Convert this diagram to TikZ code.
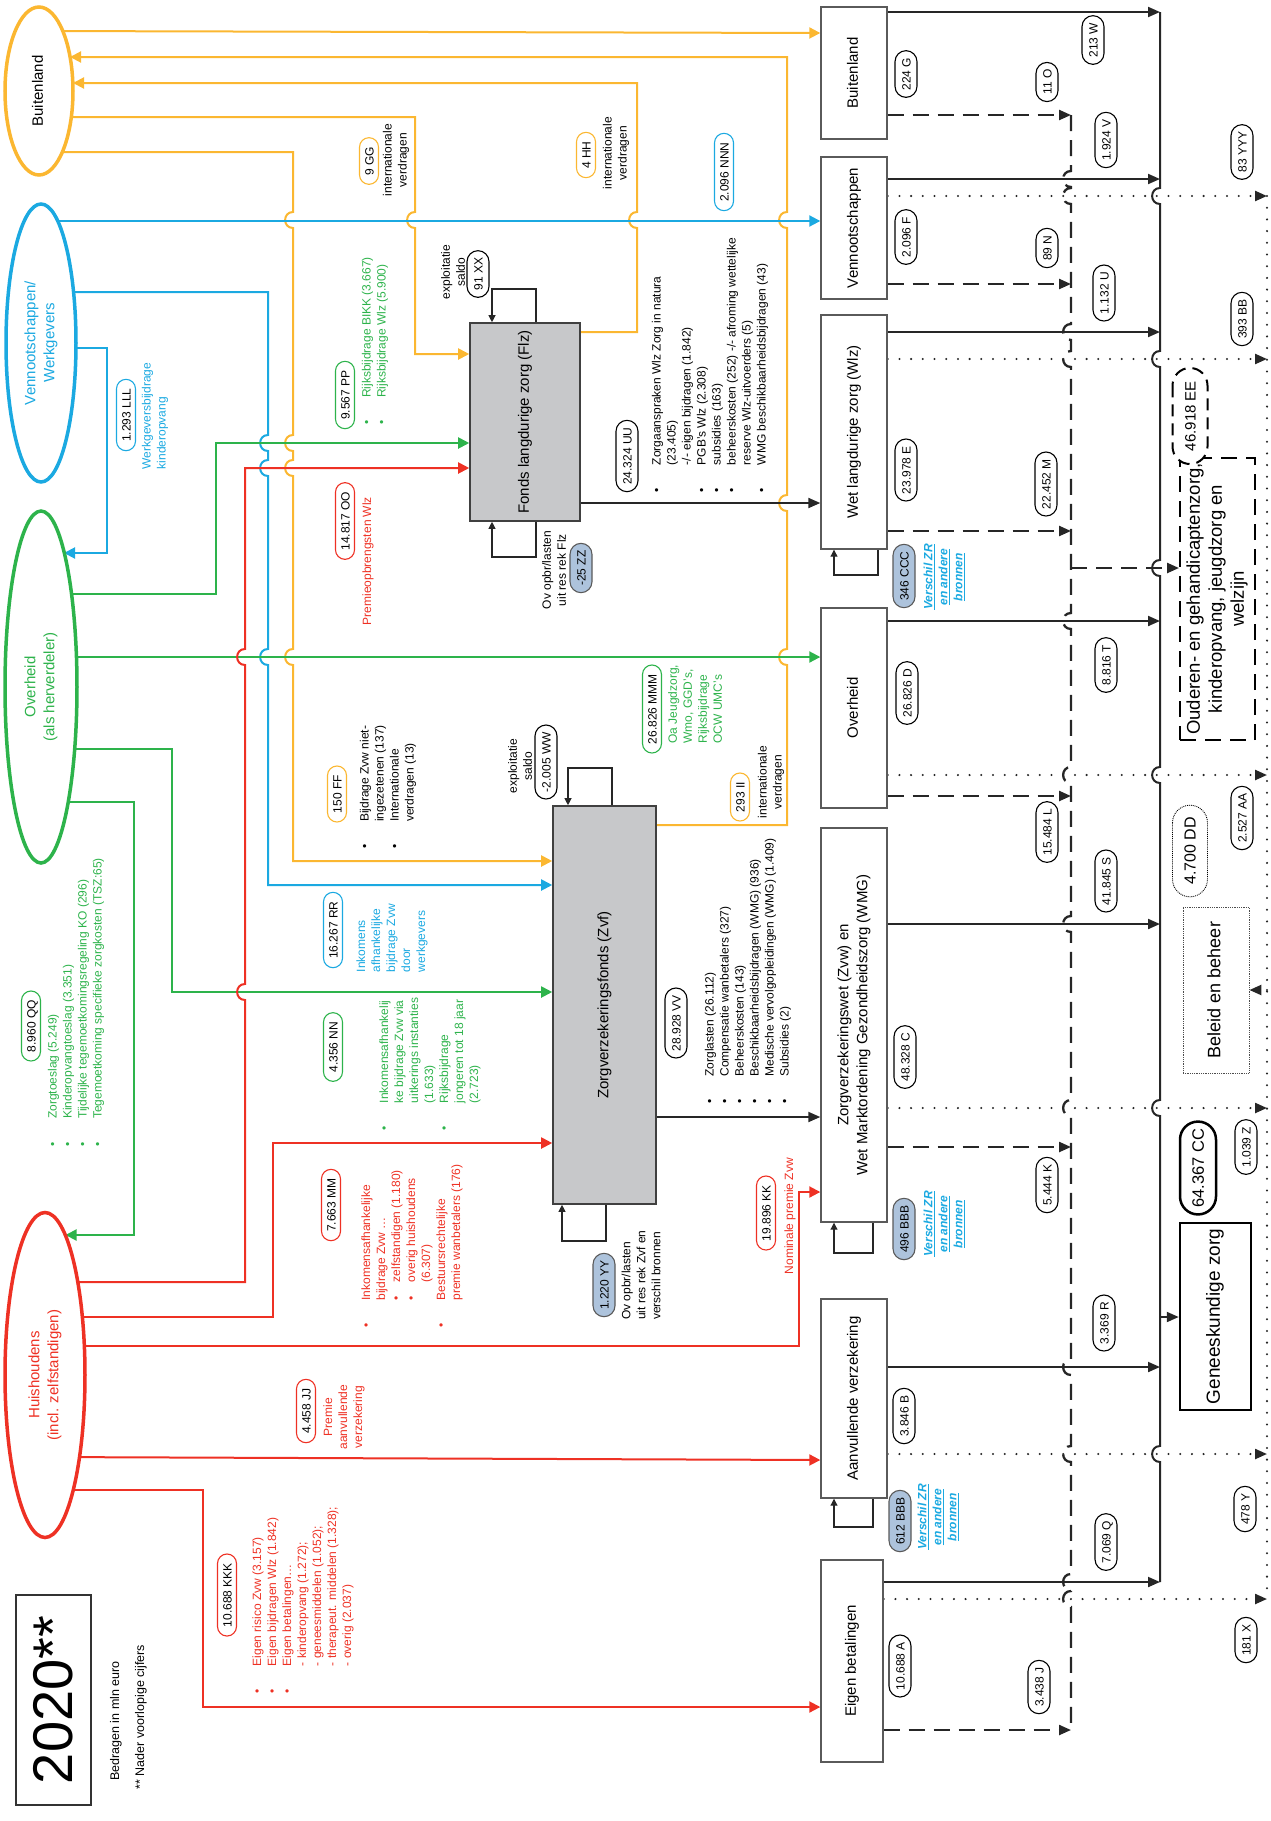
\documentclass[tikz,border=0pt]{standalone}
\usepackage{fontspec}
\setmainfont{Liberation Sans}
\usepackage{graphicx}
\usetikzlibrary{arrows.meta,positioning,backgrounds,shapes.geometric,calc}
\definecolor{oranje}{HTML}{FBB731}
\definecolor{blauw}{HTML}{1BA9E1}
\definecolor{groen}{HTML}{2DB34B}
\definecolor{rood}{HTML}{EE3124}
\definecolor{rand}{HTML}{5A5A5A}
\definecolor{fonds}{HTML}{C7C8CA}
\definecolor{zrblauw}{HTML}{ADC3DC}
\newcommand{\fsz}[2]{\fontsize{#1}{#2}\selectfont}
\newcommand{\rtxt}[1]{\rotatebox{90}{\begin{tabular}{@{}c@{}}#1\end{tabular}}}
\newcommand{\zrlink}{\underline{Verschil ZR}\\\underline{en andere}\\\underline{bronnen}}

\begin{document}
\begin{tikzpicture}[x=1pt,y=-1pt,
  ell/.style={ellipse,line width=3.5pt,fill=white,inner sep=0pt,font=\fsz{15}{19}},
  box/.style={draw=rand,line width=1.4pt,fill=white,inner sep=0pt,font=\fsz{15}{19}},
  fund/.style={draw=black!75,line width=1.6pt,fill=fonds,inner sep=0pt,font=\fsz{15}{19}},
  ov/.style={rectangle,rounded corners=9.5pt,draw,line width=1.1pt,fill=white,rotate=90,
             minimum height=19pt,text height=9pt,text depth=0pt,inner ysep=0pt,
             inner xsep=9pt,font=\fsz{12}{14}},
  sov/.style={ov,rounded corners=11pt,minimum height=22pt,inner xsep=7pt},
  zrov/.style={sov,fill=zrblauw,draw=rand},
  txt/.style={rotate=90,inner sep=0pt,font=\fsz{12}{15}},
  zrtxt/.style={txt,text=blauw,align=center,font=\fsz{12}{15}\bfseries\itshape},
  cl/.style={line width=2pt,-{Triangle[length=11pt,width=11pt]}},
  kl/.style={line width=2pt,black!85},
  ktip/.style={-{Triangle[length=12pt,width=10pt]}},
  dl/.style={kl,line width=2.3pt,dash pattern=on 16pt off 9pt},
  pl/.style={kl,line width=2.3pt,line cap=round,dash pattern=on 0pt off 11.7pt},
  loopl/.style={line width=1.1pt,black!85,-{Triangle[length=7pt,width=7pt]}},
  hopd/.style args={#1/#2}{insert path={-- (#1,#2-8) .. controls (#1-10.5,#2-8) and (#1-10.5,#2+8) .. (#1,#2+8)}},
  hopu/.style args={#1/#2}{insert path={-- (#1,#2+8) .. controls (#1-10.5,#2+8) and (#1-10.5,#2-8) .. (#1,#2-8)}}
]
\useasboundingbox (0,0) rectangle (1271,1821);

% sectoren
\node[ell,draw=oranje,minimum width=68,minimum height=168] (elBuit) at (39,91) {\rtxt{Buitenland}};
\node[ell,draw=blauw,text=blauw,minimum width=70,minimum height=278] (elVenn) at (41,343) {\rtxt{Vennootschappen/\\Werkgevers}};
\node[ell,draw=groen,text=groen,minimum width=72,minimum height=352] (elOverh) at (41,687) {\rtxt{Overheid\\(als herverdeler)}};
\node[ell,draw=rood,text=rood,minimum width=80,minimum height=325] (elHuis) at (45,1375) {\rtxt{Huishoudens\\(incl. zelfstandigen)}};

% fondsen
\node[fund,minimum width=110,minimum height=198] (fdFlz) at (525,422) {\rtxt{Fonds langdurige zorg (Flz)}};
\node[fund,minimum width=103,minimum height=398] (fdZvf) at (604.5,1005) {\rtxt{Zorgverzekeringsfonds (Zvf)}};

% financieringsbronnen
\node[box,minimum width=66,minimum height=132] (bxBuit) at (854,73) {\rtxt{Buitenland}};
\node[box,minimum width=66,minimum height=142] (bxVenn) at (854,228) {\rtxt{Vennootschappen}};
\node[box,minimum width=66,minimum height=234] (bxWlz) at (854,432) {\rtxt{Wet langdurige zorg (Wlz)}};
\node[box,minimum width=66,minimum height=200] (bxOverh) at (854,708) {\rtxt{Overheid}};
\node[box,minimum width=66,minimum height=394] (bxZvw) at (854,1025) {\rtxt{Zorgverzekeringswet (Zvw) en\\Wet Marktordening Gezondheidszorg (WMG)}};
\node[box,minimum width=66,minimum height=199] (bxAanv) at (854,1398.5) {\rtxt{Aanvullende verzekering}};
\node[box,minimum width=62,minimum height=202] (bxEigen) at (852,1661) {\rtxt{Eigen betalingen}};

% bestedingen
\node[box,draw=black,line width=2pt,dash pattern=on 16pt off 9pt,minimum width=75,minimum height=282,
      font=\fsz{18.5}{22}] (tgOuder) at (1217.5,599) {\rtxt{Ouderen- en gehandicaptenzorg,\\kinderopvang, jeugdzorg en\\welzijn}};
\node[ov,line width=2pt,dash pattern=on 12pt off 7pt,rounded corners=17.5pt,minimum height=35pt,
      text height=11pt,inner xsep=13pt,font=\fsz{15}{18}] (ovEE) at (1190,416) {46.918 EE};
\node[box,draw=black!70,line width=0.8pt,densely dotted,minimum width=66,minimum height=166,
      font=\fsz{18}{22}] (tgBeleid) at (1216,990) {\rtxt{Beleid en beheer}};
\node[ov,line width=0.9pt,densely dotted,rounded corners=17.5pt,minimum height=35pt,
      text height=11pt,inner xsep=12pt,font=\fsz{16}{18}] (ovDD) at (1190,851) {4.700 DD};
\node[box,draw=black,line width=2.5pt,minimum width=71,minimum height=187,
      font=\fsz{19}{22}] (tgGenees) at (1215.5,1316.5) {\rtxt{Geneeskundige zorg}};
\node[ov,line width=2.5pt,rounded corners=18pt,minimum height=36pt,text height=11.5pt,
      inner xsep=7pt,font=\fsz{16.5}{18}] (ovCC) at (1198,1168) {64.367 CC};

% jaartal
\node[box,draw=black!80,line width=1.5pt,minimum width=75,minimum height=210,
      font=\fsz{56}{60}] (jaar) at (53.5,1700) {\rotatebox{90}{2020**}};
\node[txt,font=\fsz{12.5}{15}] (bedrag) at (116,1721) {Bedragen in mln euro};
\node[txt,font=\fsz{12.5}{15}] (nader) at (141,1717) {** Nader voorlopige cijfers};

% labels linkerdeel
\node[ov,draw=oranje] (ovGG) at (369,161) {9 GG};
\node[txt,align=center] (tGG) at (396,160) {internationale\\verdragen};
\node[ov,draw=oranje] (ovHH) at (586,155) {4 HH};
\node[txt,align=center] (tHH) at (616,153) {internationale\\verdragen};
\node[ov,draw=blauw] (ovNNN) at (724,172) {2.096 NNN};
\node[sov] (ovXX) at (478,274) {91 XX};
\node[txt,align=center] (tXX) at (453,272) {exploitatie\\saldo};
\node[ov,draw=groen] (ovPP) at (345,395) {9.567 PP};
\node[txt,text=groen] (tPP) at (375,341) {\begin{tabular}{@{}l@{\hspace{23pt}}l@{}}
  \textbullet&Rijksbijdrage BIKK (3.667)\\\textbullet&Rijksbijdrage Wlz (5.900)\end{tabular}};
\node[ov,draw=blauw] (ovLLL) at (126,415) {1.293 LLL};
\node[txt,text=blauw,align=left] (tLLL) at (155,416) {Werkgeversbijdrage\\kinderopvang};
\node[ov,draw=rood] (ovOO) at (345,521) {14.817 OO};
\node[txt,text=rood] (tOO) at (368,561) {Premieopbrengsten Wlz};
\node[sov] (ovUU) at (627,456) {24.324 UU};
\node[txt] (tUU) at (710,365) {\begin{tabular}{@{}l@{\hspace{23pt}}l@{}}
  \textbullet&Zorgaanspraken Wlz Zorg in natura\\
  &(23.405)\\
  &-/- eigen bijdragen (1.842)\\
  \textbullet&PGB's Wlz (2.308)\\
  \textbullet&subsidies (163)\\
  \textbullet&beheerskosten (252) -/- afroming wettelijke\\
  &reserve Wlz-uitvoerders (5)\\
  \textbullet&WMG beschikbaarheidsbijdragen (43)\end{tabular}};
\node[ov,draw=oranje] (ovFF) at (337,794) {150 FF};
\node[txt] (tFF) at (388,787) {\begin{tabular}{@{}l@{\hspace{23pt}}l@{}}
  \textbullet&Bijdrage Zvw niet-\\&ingezetenen (137)\\
  \textbullet&Internationale\\&verdragen (13)\end{tabular}};
\node[sov] (ovWW) at (546,762) {-2.005 WW};
\node[txt,align=center] (tWW) at (520,766) {exploitatie\\saldo};
\node[ov,draw=groen] (ovMMM) at (652,709) {26.826 MMM};
\node[txt,text=groen,align=left] (tMMM) at (695,704) {Oa Jeugdzorg,\\Wmo, GGD's,\\Rijksbijdrage\\OCW UMC's};
\node[ov,draw=oranje] (ovII) at (740,797) {293 II};
\node[txt,align=center] (tII) at (771,782) {internationale\\verdragen};
\node[zrov] (ovZZ) at (581,568) {-25 ZZ};
\node[txt,align=center] (tZZ) at (554,570) {Ov opbr/lasten\\uit res rek Flz};
\node[ov,draw=blauw] (ovRR) at (333,930) {16.267 RR};
\node[txt,text=blauw,align=left] (tRR) at (392,938) {Inkomens\\afhankelijke\\bijdrage Zvw\\door\\werkgevers};
\node[ov,draw=groen] (ovNN) at (333,1047) {4.356 NN};
\node[txt,text=groen] (tNN) at (430,1064) {\begin{tabular}{@{}l@{\hspace{23pt}}l@{}}
  \textbullet&Inkomensafhankelij\\&ke bijdrage Zvw via\\&uitkerings instanties\\&(1.633)\\
  \textbullet&Rijksbijdrage\\&jongeren tot 18 jaar\\&(2.723)\end{tabular}};
\node[ov,draw=groen] (ovQQ) at (31,1026) {8.960 QQ};
\node[txt,text=groen] (tQQ) at (76,1002) {\begin{tabular}{@{}l@{\hspace{23pt}}l@{}}
  \textbullet&Zorgtoeslag (5.249)\\
  \textbullet&Kinderopvangtoeslag (3.351)\\
  \textbullet&Tijdelijke tegemoetkomingsregeling KO (296)\\
  \textbullet&Tegemoetkoming specifieke zorgkosten (TSZ:65)\end{tabular}};
\node[ov,draw=rood] (ovMM) at (331,1205) {7.663 MM};
\node[txt,text=rood] (tMM) at (412,1246) {\begin{tabular}{@{}l@{\hspace{23pt}}l@{}}
  \textbullet&Inkomensafhankelijke\\
  &bijdrage Zvw \dots\\
  &\textbullet\hspace{14pt}zelfstandigen (1.180)\\
  &\textbullet\hspace{14pt}overig huishoudens\\
  &\hspace{18pt}(6.307)\\
  \textbullet&Bestuursrechtelijke\\
  &premie wanbetalers (176)\end{tabular}};
\node[sov] (ovVV) at (676,1023) {28.928 VV};
\node[txt] (tVV) at (748,971) {\begin{tabular}{@{}l@{\hspace{23pt}}l@{}}
  \textbullet&Zorglasten (26.112)\\
  \textbullet&Compensatie wanbetalers (327)\\
  \textbullet&Beheerskosten (143)\\
  \textbullet&Beschikbaarheidsbijdragen (WMG) (936)\\
  \textbullet&Medische vervolgopleidingen (WMG) (1.409)\\
  \textbullet&Subsidies (2)\end{tabular}};
\node[zrov] (ovYY) at (604,1285) {1.220 YY};
\node[txt,align=left] (tYY) at (641,1275) {Ov opbr/lasten\\uit res rek Zvf en\\verschil bronnen};
\node[ov,draw=rood] (ovKK) at (766,1213) {19.896 KK};
\node[txt,text=rood] (tKK) at (790,1216) {Nominale premie Zvw};
\node[ov,draw=rood] (ovJJ) at (306,1411) {4.458 JJ};
\node[txt,text=rood,align=center] (tJJ) at (344,1417) {Premie\\aanvullende\\verzekering};
\node[ov,draw=rood] (ovKKK) at (227,1595) {10.688 KKK};
\node[txt,text=rood] (tKKK) at (303,1600) {\begin{tabular}{@{}l@{\hspace{23pt}}l@{}}
  \textbullet&Eigen risico Zvw (3.157)\\
  \textbullet&Eigen bijdragen Wlz (1.842)\\
  \textbullet&Eigen betalingen\dots\\
  &- kinderopvang (1.272);\\
  &- geneesmiddelen (1.052);\\
  &- therapeut. middelen (1.328);\\
  &- overig (2.037)\end{tabular}};

% labels rechterdeel
\node[sov] (ovG) at (906,74) {224 G};
\node[sov] (ovF) at (906,237) {2.096 F};
\node[sov] (ovE) at (906,470) {23.978 E};
\node[sov] (ovD) at (907,693) {26.826 D};
\node[sov] (ovC) at (905,1057) {48.328 C};
\node[sov] (ovB) at (904,1416) {3.846 B};
\node[sov] (ovA) at (900,1666) {10.688 A};
\node[zrov] (ovCCC) at (904,576) {346 CCC};
\node[zrtxt] (tCCC) at (944,577) {\zrlink};
\node[zrov] (ovBBBa) at (904,1229) {496 BBB};
\node[zrtxt] (tBBBa) at (944,1224) {\zrlink};
\node[zrov] (ovBBBb) at (900,1521) {612 BBB};
\node[zrtxt] (tBBBb) at (938,1517) {\zrlink};
\node[sov] (ovO) at (1047,82) {11 O};
\node[sov] (ovN) at (1047,248) {89 N};
\node[sov] (ovM) at (1046,484) {22.452 M};
\node[sov] (ovL) at (1047,832) {15.484 L};
\node[sov] (ovK) at (1047,1185) {5.444 K};
\node[sov] (ovJ) at (1039,1687) {3.438 J};
\node[sov] (ovW) at (1093,40) {213 W};
\node[sov] (ovV) at (1106,140) {1.924 V};
\node[sov] (ovU) at (1104,293) {1.132 U};
\node[sov] (ovT) at (1106,665) {8.816 T};
\node[sov] (ovS) at (1106,881) {41.845 S};
\node[sov] (ovR) at (1104,1323) {3.369 R};
\node[sov] (ovQ) at (1106,1542) {7.069 Q};
\node[sov] (ovYYY) at (1242,152) {83 YYY};
\node[sov] (ovBB) at (1242,319) {393 BB};
\node[sov] (ovAA) at (1242,818) {2.527 AA};
\node[sov] (ovZ) at (1246,1147) {1.039 Z};
\node[sov] (ovY) at (1245,1509) {478 Y};
\node[sov] (ovX) at (1246,1640) {181 X};

\begin{scope}[on background layer]
% oranje
\draw[cl,oranje] (elBuit.center |- 0,31) -- (bxBuit.west |- 0,33);
\draw[cl,oranje] (fdZvf.east |- 0,825) -- (787,825) [hopu=787/657] [hopu=787/503] [hopu=787/220]
  -- (787,57) -- ($(elBuit.center)+(31,-34)$);
\draw[cl,oranje] (fdFlz.east |- 0,332) -- (637,332) [hopu=637/220] -- (637,83) -- ($(elBuit.center)+(34,-8)$);
\draw[cl,oranje] (elBuit.center |- 0,117) -- (415,117) [hopd=415/220] -- (415,354) -- (fdFlz.west |- 0,354);
\draw[cl,oranje] (elBuit.center |- 0,152) -- (293,152) [hopd=293/220] [hopd=293/443] [hopd=293/468]
  [hopd=293/657] -- (293,861) -- (fdZvf.west |- 0,861);
% blauw
\draw[cl,blauw] (elVenn.center |- 0,221) -- (bxVenn.west |- 0,221);
\draw[cl,blauw] (elVenn.center |- 0,292) -- (268,292) [hopd=268/443] [hopd=268/468] [hopd=268/657]
  -- (268,885) -- (fdZvf.west |- 0,885);
\draw[cl,blauw] (elVenn.center |- 0,348) -- (107,348) -- (107,553) -- ($(elOverh.center)+(23,-134)$);
% groen
\draw[cl,groen] (elOverh.center |- 0,657) -- (bxOverh.west |- 0,657);
\draw[cl,groen] (elOverh.center |- 0,594) -- (216,594) -- (216,443) -- (fdFlz.west |- 0,443);
\draw[cl,groen] (elOverh.center |- 0,749) -- (172,749) -- (172,992) -- (fdZvf.west |- 0,992);
\draw[cl,groen] (elOverh.center |- 0,802) -- (134,802) -- (134,1235) -- ($(elHuis.center)+(20.5,-140)$);
% rood
\draw[cl,rood] (elHuis.center |- 0,1282) -- (245,1282) [hopu=245/992] [hopu=245/657] -- (245,468)
  -- (fdFlz.west |- 0,468);
\draw[cl,rood] (elHuis.center |- 0,1317) -- (273,1317) -- (273,1143) -- (fdZvf.west |- 0,1143);
\draw[cl,rood] (elHuis.center |- 0,1346) -- (799,1346) -- (799,1192) -- (bxZvw.west |- 0,1192);
\draw[cl,rood] (elHuis.center |- 0,1457) -- (bxAanv.west |- 0,1460);
\draw[cl,rood] (elHuis.center |- 0,1490) -- (203,1490) -- (203,1707) -- (bxEigen.west |- 0,1707);
% fondsen naar wetten
\draw[kl,ktip] (fdFlz.east |- 0,503) -- (bxWlz.west |- 0,503);
\draw[kl,ktip] (fdZvf.east |- 0,1117) -- (bxZvw.west |- 0,1117);
% lussen
\draw[loopl] (fdFlz.north -| 536,0) -- (536,289) -- (492,289) -- (fdFlz.north -| 492,0);
\draw[loopl] (fdFlz.south -| 536,0) -- (536,557) -- (492,557) -- (fdFlz.south -| 492,0);
\draw[loopl] (fdZvf.north -| 612,0) -- (612,768) -- (568,768) -- (fdZvf.north -| 568,0);
\draw[loopl] (fdZvf.south -| 606,0) -- (606,1241) -- (562,1241) -- (fdZvf.south -| 562,0);
\draw[loopl] (bxWlz.south -| 878,0) -- (878,575) -- (834,575) -- (bxWlz.south -| 834,0);
\draw[loopl] (bxZvw.south -| 873,0) -- (873,1253) -- (834,1253) -- (bxZvw.south -| 834,0);
\draw[loopl] (bxAanv.south -| 873,0) -- (873,1527) -- (834,1527) -- (bxAanv.south -| 834,0);
% geneeskundige zorg
\draw[kl,ktip] (bxBuit.east |- 0,12) -- (1160,12);
\draw[kl,ktip] (bxVenn.east |- 0,179) -- (1160,179);
\draw[kl,ktip] (bxWlz.east |- 0,332) -- (1160,332);
\draw[kl,ktip] (bxOverh.east |- 0,621) -- (1160,621);
\draw[kl,ktip] (bxZvw.east |- 0,924) -- (1160,924);
\draw[kl,ktip] (bxAanv.east |- 0,1367) -- (1160,1367);
\draw[kl,ktip] (bxEigen.east |- 0,1582) -- (1160,1582);
\draw[kl] (1160,12) [hopd=1160/196] [hopd=1160/359] [hopd=1160/568] [hopd=1160/775] [hopd=1160/1108]
  [hopd=1160/1454] -- (1160,1582);
\draw[kl,ktip] (1160,1317) -- (tgGenees.west |- 0,1317);
% ouderen- en gehandicaptenzorg
\draw[dl,ktip] (bxBuit.east |- 0,115) -- (1071,115);
\draw[dl,ktip] (bxVenn.east |- 0,284) -- (1071,284);
\draw[dl,ktip] (bxWlz.east |- 0,531) -- (1071,531);
\draw[dl,ktip] (bxOverh.east |- 0,796) -- (1071,796);
\draw[dl,ktip] (bxZvw.east |- 0,1147) -- (1071,1147);
\draw[dl,ktip] (bxEigen.east |- 0,1730) -- (1071,1730);
\draw[dl] (1071,115) [hopd=1071/179] [hopd=1071/196] [hopd=1071/332] [hopd=1071/359] [hopd=1071/621]
  [hopd=1071/775] [hopd=1071/924] [hopd=1071/1108] [hopd=1071/1367] [hopd=1071/1454]
  [hopd=1071/1582] [hopd=1071/1599] -- (1071,1730);
\draw[dl,ktip] (1071,568) -- (tgOuder.west |- 0,568);
% beleid en beheer
\draw[pl,ktip] (bxVenn.east |- 0,196) -- (1267,196);
\draw[pl,ktip] (bxWlz.east |- 0,359) -- (1267,359);
\draw[pl,ktip] (bxOverh.east |- 0,775) -- (1267,775);
\draw[pl,ktip] (bxZvw.east |- 0,1108) -- (1267,1108);
\draw[pl,ktip] (bxAanv.east |- 0,1454) -- (1267,1454);
\draw[pl,ktip] (bxEigen.east |- 0,1599) -- (1267,1599);
\draw[pl] (1267,196) -- (1267,1599);
\draw[pl,ktip] (1267,990) -- (tgBeleid.east |- 0,990);
\end{scope}
\end{tikzpicture}
\end{document}
